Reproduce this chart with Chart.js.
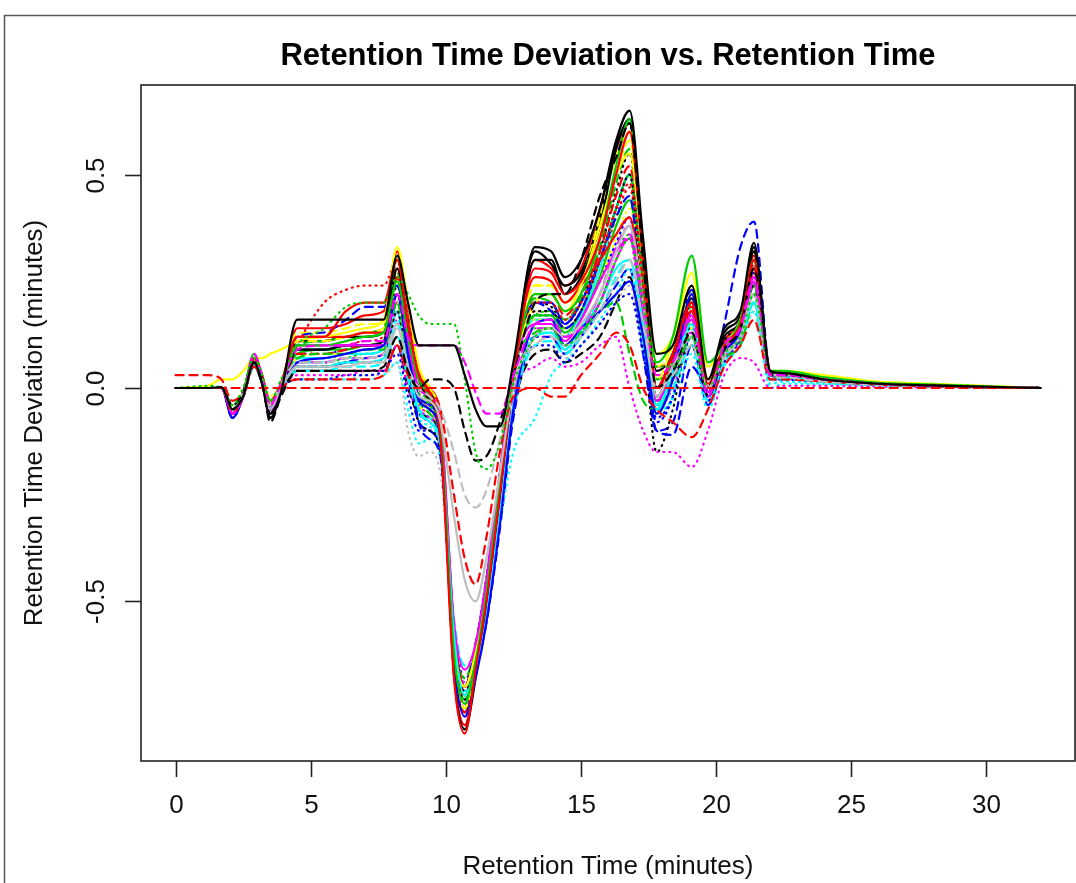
<!DOCTYPE html>
<html>
<head>
<meta charset="utf-8">
<title>Retention Time Deviation vs. Retention Time</title>
<script src="https://cdn.jsdelivr.net/npm/chart.js@4.4.1/dist/chart.umd.min.js"></script>
<style>
  html, body { margin: 0; padding: 0; background: #fff; }
  #rtChart { display: block; }
</style>
</head>
<body>
<canvas id="rtChart" width="1076" height="883"></canvas>
<script>
// retention time grid (minutes) shared by every sample curve
var retentionTime = [
  0, 1.2, 1.7, 2.1, 2.5, 2.9, 3.2, 3.5, 3.9,
  4.5, 5.5, 6.3, 7.0, 7.7, 8.2, 8.6, 9.0, 9.4, 9.8,
  10.3, 10.7, 11.1, 11.5, 12.0, 12.5,
  13.3, 13.9, 14.4, 15.0, 15.7, 16.3, 16.8, 17.3, 17.8,
  18.4, 19.1, 19.7, 20.3, 20.9, 21.4, 22.0, 22.5, 24, 26, 28, 30, 32
];

// deviation (minutes) per sample, one value per retentionTime entry
var s01 = [0, 0, 0.002, -0.05, -0.02, 0.06, 0.01, -0.07, -0.01,
  0.16, 0.16, 0.16, 0.16, 0.16, 0.31, 0.2, 0.1, 0.1, 0.1,
  0.1, 0.03, -0.05, -0.09, -0.09, 0.06,
  0.33, 0.32, 0.26, 0.3, 0.42, 0.58, 0.65, 0.35, 0.08,
  0.1, 0.24, 0.02, 0.14, 0.18, 0.34, 0.04, 0.035, 0.02, 0.01, 0.006, 0.003, 0];
var s02 = [0, 0, 0, 0, 0, 0, 0, 0, 0,
  0, 0, 0, 0, 0, 0, 0, 0, 0, 0,
  0, 0, 0, 0, 0, 0,
  0, 0, 0, 0, 0, 0, 0, 0, 0,
  0, 0, 0, 0, 0, 0, 0, 0, 0, 0, 0, 0, 0];
var s03 = [0, 0.005, 0, -0.04, 0, 0.07, 0.03, -0.03, 0.02,
  0.1, 0.14, 0.19, 0.2, 0.2, 0.26, 0.22, 0.17, 0.15, 0.15,
  0.15, 0.02, -0.15, -0.19, -0.13, 0.01,
  0.12, 0.14, 0.1, 0.13, 0.2, 0.3, 0.35, 0.2, 0.05,
  0.05, 0.12, 0, 0.08, 0.12, 0.22, 0.04, 0.035, 0.025, 0.012, 0.008, 0.004, 0];
var s04 = [0, 0, 0, -0.06, -0.02, 0.08, 0.03, -0.04, 0.01,
  0.09, 0.1, 0.1, 0.11, 0.11, 0.22, 0.12, 0.1, 0.1, 0.1,
  0.1, 0.06, -0.01, -0.06, -0.06, 0.03,
  0.15, 0.16, 0.12, 0.14, 0.2, 0.3, 0.36, 0.2, 0.03,
  0.06, 0.16, -0.02, 0.1, 0.14, 0.26, 0.03, 0.03, 0.02, 0.01, 0.005, 0.003, 0];
var s05 = [0, 0, 0, -0.04, -0.01, 0.06, 0.02, -0.08, -0.02,
  0.04, 0.04, 0.04, 0.04, 0.05, 0.12, 0.04, 0, 0.02, 0.02,
  0, -0.1, -0.17, -0.16, -0.08, 0.03,
  0.2, 0.22, 0.22, 0.3, 0.45, 0.54, 0.62, 0.3, 0,
  0.04, 0.13, -0.02, 0.09, 0.14, 0.28, 0.03, 0.03, 0.02, 0.01, 0.005, 0.002, 0];
var s06 = [0, 0, 0, -0.05, -0.01, 0.06, 0.02, -0.04, 0.01,
  0.06, 0.06, 0.07, 0.07, 0.08, 0.15, 0.05, 0, -0.02, -0.05,
  -0.15, -0.25, -0.28, -0.24, -0.12, 0.02,
  0.1, 0.12, 0.1, 0.12, 0.18, 0.25, 0.3, 0.15, 0,
  0.03, 0.1, 0, 0.07, 0.12, 0.22, 0.03, 0.025, 0.015, 0.008, 0.004, 0.002, 0];
var s07 = [0.03, 0.03, 0.02, -0.03, -0.01, 0.05, 0.02, -0.03, 0,
  0.02, 0.02, 0.02, 0.02, 0.03, 0.1, 0.03, 0, -0.01, -0.05,
  -0.25, -0.4, -0.46, -0.35, -0.15, -0.02,
  0, -0.02, -0.02, 0.03, 0.08, 0.13, 0.1, 0, -0.05,
  -0.08, -0.115, -0.05, 0.05, 0.1, 0.16, 0.02, 0.02, 0.015, 0.008, 0.004, 0.002, 0];
var s08 = [0, 0, 0, -0.05, -0.02, 0.06, 0.02, -0.05, 0,
  0.05, 0.05, 0.05, 0.06, 0.06, 0.14, 0.05, -0.02, -0.03, -0.08,
  -0.3, -0.45, -0.5, -0.4, -0.2, 0,
  0.12, 0.14, 0.12, 0.15, 0.22, 0.32, 0.38, 0.2, -0.02,
  0.05, 0.12, 0, 0.08, 0.12, 0.22, 0.03, 0.03, 0.02, 0.01, 0.005, 0.002, 0];
var s09 = [0, 0, 0, -0.06, -0.02, 0.07, 0.03, -0.04, 0.01,
  0.12, 0.12, 0.18, 0.2, 0.2, 0.3, 0.15, 0.03, -0.01, -0.12,
  -0.68, -0.81, -0.66, -0.5, -0.25, 0.02,
  0.28, 0.27, 0.22, 0.25, 0.35, 0.5, 0.6, 0.3, 0,
  0.08, 0.2, 0, 0.1, 0.15, 0.3, 0.04, 0.035, 0.02, 0.01, 0.006, 0.003, 0];
var s10 = [0, 0, 0, -0.05, -0.01, 0.08, 0.03, -0.03, 0.01,
  0.1, 0.1, 0.11, 0.12, 0.13, 0.25, 0.12, 0.02, -0.02, -0.1,
  -0.62, -0.74, -0.64, -0.48, -0.23, 0.03,
  0.22, 0.22, 0.18, 0.22, 0.35, 0.52, 0.63, 0.3, 0.06,
  0.12, 0.31, 0.06, 0.1, 0.16, 0.3, 0.04, 0.04, 0.025, 0.012, 0.008, 0.004, 0];
var s11 = [0, 0, 0, -0.07, -0.02, 0.06, 0.02, -0.05, 0,
  0.06, 0.07, 0.08, 0.09, 0.1, 0.22, 0.08, -0.03, -0.05, -0.12,
  -0.64, -0.77, -0.68, -0.55, -0.32, -0.05,
  0.15, 0.16, 0.1, 0.14, 0.18, 0.22, 0.25, 0.12, -0.06,
  0.02, 0.22, -0.02, 0.08, 0.14, 0.3, 0.03, 0.03, 0.02, 0.01, 0.005, 0.002, 0];
var s12 = [0, 0, 0, -0.05, -0.01, 0.06, 0.02, -0.04, 0,
  0.05, 0.05, 0.06, 0.06, 0.07, 0.15, 0.05, -0.05, -0.08, -0.13,
  -0.58, -0.72, -0.66, -0.54, -0.3, -0.04,
  0.12, 0.13, 0.09, 0.14, 0.2, 0.28, 0.3, 0.15, -0.05,
  0.04, 0.15, 0, 0.08, 0.12, 0.2, 0.02, 0.025, 0.015, 0.008, 0.004, 0.002, 0];
var s13 = [0, 0, 0, -0.06, -0.01, 0.07, 0.02, -0.05, 0,
  0.1, 0.1, 0.1, 0.1, 0.1, 0.22, 0.1, 0, -0.02, -0.08,
  -0.55, -0.66, -0.6, -0.45, -0.2, 0.04,
  0.15, 0.15, 0.11, 0.16, 0.25, 0.32, 0.35, 0.18, -0.03,
  0.05, 0.17, -0.01, 0.09, 0.13, 0.25, 0.03, 0.03, 0.02, 0.01, 0.005, 0.002, 0];
var s14 = [0, 0.005, 0.02, 0.02, 0.04, 0.07, 0.07, 0.08, 0.09,
  0.11, 0.12, 0.13, 0.14, 0.16, 0.33, 0.2, 0.05, 0, -0.08,
  -0.6, -0.7, -0.62, -0.46, -0.22, 0.03,
  0.2, 0.22, 0.18, 0.24, 0.38, 0.5, 0.55, 0.3, 0.08,
  0.12, 0.27, 0.05, 0.1, 0.16, 0.3, 0.04, 0.04, 0.03, 0.015, 0.01, 0.005, 0];
var s15 = [0, 0, 0, -0.05, -0.02, 0.06, 0.02, -0.06, -0.01,
  0.09, 0.09, 0.1, 0.1, 0.11, 0.28, 0.15, 0.02, -0.03, -0.1,
  -0.67, -0.8, -0.68, -0.5, -0.25, 0.02,
  0.3, 0.3, 0.22, 0.26, 0.38, 0.56, 0.63, 0.32, 0,
  0.08, 0.2, 0, 0.13, 0.17, 0.33, 0.04, 0.035, 0.02, 0.01, 0.006, 0.003, 0];
var s16 = [0, 0, 0, -0.05, -0.01, 0.07, 0.02, -0.04, 0.01,
  0.12, 0.12, 0.12, 0.13, 0.13, 0.28, 0.14, 0.03, 0, -0.07,
  -0.56, -0.7, -0.62, -0.46, -0.22, 0.04,
  0.26, 0.25, 0.2, 0.24, 0.3, 0.36, 0.4, 0.2, 0,
  0.08, 0.18, 0.01, 0.1, 0.14, 0.28, 0.03, 0.03, 0.02, 0.01, 0.005, 0.002, 0];
var s17 = [0, 0, 0, -0.05, -0.01, 0.06, 0.02, -0.04, 0.01,
  0.1, 0.2, 0.23, 0.24, 0.24, 0.3, 0.18, 0.04, -0.02, -0.1,
  -0.62, -0.72, -0.64, -0.47, -0.23, 0.03,
  0.2, 0.2, 0.16, 0.2, 0.3, 0.42, 0.48, 0.24, -0.02,
  0.07, 0.18, 0, 0.1, 0.14, 0.27, 0.04, 0.035, 0.025, 0.012, 0.006, 0.003, 0];
var s18 = [0, 0, 0, -0.06, -0.02, 0.07, 0.02, -0.04, 0.01,
  0.12, 0.13, 0.16, 0.19, 0.19, 0.24, 0.08, -0.08, -0.12, -0.16,
  -0.62, -0.7, -0.6, -0.45, -0.2, 0.04,
  0.2, 0.18, 0.14, 0.18, 0.3, 0.4, 0.45, 0.15, -0.1,
  -0.11, 0.05, 0, 0.15, 0.33, 0.39, 0.04, 0.03, 0.02, 0.01, 0.005, 0.002, 0];
var s19 = [0, 0, 0, -0.05, -0.01, 0.07, 0.03, -0.03, 0.01,
  0.07, 0.08, 0.08, 0.09, 0.09, 0.2, 0.06, -0.03, -0.06, -0.12,
  -0.58, -0.68, -0.6, -0.45, -0.2, 0.04,
  0.13, 0.14, 0.1, 0.13, 0.18, 0.2, 0.08, -0.03, -0.05,
  0.02, 0.12, 0, 0.07, 0.1, 0.2, 0.03, 0.025, 0.015, 0.008, 0.004, 0.002, 0];
var s20 = [0, 0, 0, -0.04, -0.01, 0.05, 0.02, -0.03, 0,
  0.04, 0.04, 0.05, 0.05, 0.06, 0.12, 0.02, -0.06, -0.08, -0.14,
  -0.54, -0.65, -0.62, -0.52, -0.3, -0.05,
  0.1, 0.11, 0.08, 0.12, 0.18, 0.26, 0.3, 0.12, -0.05,
  0, 0.1, -0.03, 0.06, 0.1, 0.2, 0.02, 0.02, 0.015, 0.008, 0.004, 0.002, 0];
var s21 = [0, 0, 0, -0.05, -0.01, 0.06, 0.02, -0.04, 0,
  0.03, 0.03, 0.03, 0.04, 0.04, 0.1, 0, -0.05, -0.07, -0.12,
  -0.6, -0.7, -0.6, -0.44, -0.2, 0,
  0.05, 0.07, 0.05, 0.06, 0.1, 0.12, 0, -0.1, -0.15,
  -0.15, -0.185, -0.1, 0.03, 0.07, 0.06, 0, 0.005, 0.005, 0.003, 0.002, 0.001, 0];
var s22 = [0, 0, 0, -0.05, -0.01, 0.07, 0.03, -0.03, 0.01,
  0.11, 0.11, 0.12, 0.13, 0.14, 0.3, 0.16, 0.04, 0, -0.09,
  -0.64, -0.75, -0.65, -0.48, -0.23, 0.03,
  0.24, 0.24, 0.2, 0.24, 0.36, 0.5, 0.58, 0.3, 0.02,
  0.1, 0.22, 0.02, 0.1, 0.16, 0.3, 0.04, 0.035, 0.025, 0.012, 0.008, 0.004, 0];
var s23 = [0, 0, 0, -0.05, -0.02, 0.06, 0.02, -0.06, -0.01,
  0.05, 0.05, 0.06, 0.06, 0.07, 0.18, 0.04, -0.08, -0.1, -0.15,
  -0.62, -0.73, -0.64, -0.48, -0.24, 0.02,
  0.18, 0.18, 0.14, 0.18, 0.3, 0.42, 0.5, 0.15, -0.15,
  -0.05, 0.15, -0.02, 0.1, 0.15, 0.3, 0.03, 0.03, 0.02, 0.01, 0.005, 0.002, 0];
var s24 = [0, 0, 0, -0.05, -0.01, 0.07, 0.03, -0.04, 0.01,
  0.09, 0.09, 0.1, 0.1, 0.11, 0.22, 0.1, -0.01, -0.04, -0.11,
  -0.6, -0.72, -0.63, -0.46, -0.22, 0.03,
  0.17, 0.18, 0.14, 0.18, 0.3, 0.42, 0.5, 0.25, -0.02,
  0.06, 0.15, 0, 0.09, 0.14, 0.24, 0.03, 0.03, 0.02, 0.01, 0.005, 0.002, 0];
var s25 = [0, 0, 0, -0.07, -0.02, 0.06, 0.02, -0.04, 0,
  0.02, 0.02, 0.03, 0.03, 0.04, 0.08, -0.02, -0.1, -0.1, -0.15,
  -0.56, -0.68, -0.64, -0.53, -0.31, -0.06,
  0.1, 0.1, 0.06, 0.1, 0.15, 0.2, 0.22, 0.08, -0.07,
  -0.02, 0.12, -0.03, 0.06, 0.12, 0.25, 0.02, 0.02, 0.015, 0.008, 0.004, 0.002, 0];
var s26 = [0, 0, 0, -0.05, -0.01, 0.05, 0.02, -0.03, 0,
  0.02, 0.02, 0.02, 0.02, 0.03, 0.06, -0.05, -0.13, -0.12, -0.17,
  -0.58, -0.7, -0.65, -0.52, -0.32, -0.15,
  -0.07, 0.03, 0.06, 0.1, 0.16, 0.22, 0.28, 0.1, -0.05,
  -0.03, 0.08, -0.05, 0.05, 0.1, 0.18, 0, 0.01, 0.008, 0.005, 0.003, 0.001, 0];
var s27 = [0, 0, 0, -0.05, -0.01, 0.05, 0.02, -0.04, 0,
  0.02, 0.02, 0.02, 0.03, 0.03, 0.06, -0.1, -0.16, -0.15, -0.2,
  -0.58, -0.68, -0.63, -0.52, -0.3, -0.04,
  0.1, 0.1, 0.07, 0.1, 0.15, 0.2, 0.24, 0.1, -0.03,
  0, 0.1, -0.02, 0.06, 0.1, 0.18, 0.02, 0.02, 0.015, 0.008, 0.004, 0.002, 0];
var s28 = [0, 0, 0, -0.05, -0.02, 0.05, 0.01, -0.07, -0.01,
  0.04, 0.04, 0.04, 0.04, 0.04, 0.1, 0, -0.06, -0.07, -0.13,
  -0.6, -0.71, -0.65, -0.53, -0.3, -0.05,
  0.08, 0.09, 0.06, 0.08, 0.12, 0.2, 0.26, 0.1, -0.03,
  0.02, 0.1, 0, 0.1, 0.15, 0.24, 0.03, 0.03, 0.02, 0.01, 0.005, 0.002, 0];
var s29 = [0, 0, 0, -0.06, -0.02, 0.07, 0.02, -0.05, 0,
  0.08, 0.08, 0.09, 0.1, 0.1, 0.26, 0.12, 0, -0.02, -0.1,
  -0.64, -0.76, -0.66, -0.5, -0.25, 0.02,
  0.22, 0.22, 0.17, 0.22, 0.32, 0.45, 0.52, 0.25, 0,
  0.08, 0.19, 0, 0.1, 0.15, 0.28, 0.035, 0.03, 0.02, 0.01, 0.006, 0.003, 0];
var s30 = [0, 0, 0, -0.04, 0, 0.06, 0.03, -0.02, 0.01,
  0.07, 0.08, 0.08, 0.09, 0.1, 0.2, 0.05, -0.04, -0.06, -0.12,
  -0.58, -0.7, -0.62, -0.46, -0.2, 0.04,
  0.16, 0.16, 0.12, 0.16, 0.25, 0.35, 0.42, 0.22, -0.03,
  0.06, 0.14, 0, 0.08, 0.13, 0.24, 0.03, 0.035, 0.025, 0.012, 0.008, 0.004, 0];
var s31 = [0, 0, 0, -0.06, -0.02, 0.07, 0.03, -0.04, 0,
  0.06, 0.06, 0.07, 0.07, 0.08, 0.2, 0.06, -0.04, -0.06, -0.12,
  -0.58, -0.7, -0.65, -0.53, -0.29, -0.03,
  0.14, 0.14, 0.1, 0.14, 0.22, 0.33, 0.38, 0.2, 0,
  0.04, 0.13, -0.02, 0.08, 0.12, 0.22, 0.03, 0.025, 0.015, 0.008, 0.004, 0.002, 0];
var s32 = [0, 0, 0, -0.05, -0.02, 0.06, 0.02, -0.04, 0,
  0.07, 0.07, 0.08, 0.08, 0.09, 0.18, 0.04, -0.05, -0.07, -0.13,
  -0.62, -0.72, -0.62, -0.45, -0.21, 0.03,
  0.16, 0.16, 0.12, 0.17, 0.28, 0.42, 0.5, 0.2, -0.04,
  0.05, 0.14, 0, 0.08, 0.12, 0.2, 0.03, 0.025, 0.015, 0.008, 0.004, 0.002, 0];
var s33 = [0, 0, 0, -0.06, -0.02, 0.06, 0.02, -0.05, 0,
  0.09, 0.09, 0.1, 0.1, 0.1, 0.22, 0.08, -0.02, -0.04, -0.1,
  -0.6, -0.72, -0.63, -0.47, -0.22, 0.03,
  0.2, 0.2, 0.15, 0.2, 0.3, 0.42, 0.5, 0.22, -0.02,
  0.06, 0.23, -0.01, 0.1, 0.15, 0.28, 0.03, 0.03, 0.02, 0.01, 0.005, 0.002, 0];
var s34 = [0, 0, 0, -0.05, -0.01, 0.07, 0.02, -0.04, 0.01,
  0.08, 0.09, 0.09, 0.1, 0.11, 0.2, 0.06, -0.03, -0.05, -0.11,
  -0.6, -0.7, -0.62, -0.46, -0.22, 0.03,
  0.17, 0.17, 0.13, 0.17, 0.26, 0.38, 0.44, 0.2, -0.04,
  0.05, 0.16, 0, 0.09, 0.13, 0.24, 0.03, 0.03, 0.02, 0.01, 0.005, 0.002, 0];
var s35 = [0, 0, 0, -0.05, -0.01, 0.06, 0.02, -0.05, 0,
  0.07, 0.07, 0.08, 0.09, 0.1, 0.24, 0.1, -0.02, -0.04, -0.1,
  -0.62, -0.74, -0.64, -0.48, -0.24, 0.02,
  0.2, 0.19, 0.15, 0.2, 0.32, 0.46, 0.55, 0.22, -0.04,
  0.04, 0.2, -0.01, 0.11, 0.16, 0.32, 0.035, 0.03, 0.02, 0.01, 0.005, 0.002, 0];
var s36 = [0, 0, 0, -0.06, -0.02, 0.07, 0.02, -0.04, 0,
  0.08, 0.09, 0.1, 0.11, 0.12, 0.26, 0.1, -0.02, -0.05, -0.12,
  -0.63, -0.75, -0.65, -0.49, -0.25, 0.02,
  0.18, 0.18, 0.14, 0.18, 0.28, 0.4, 0.47, 0.2, -0.03,
  0.05, 0.17, -0.02, 0.1, 0.15, 0.29, 0.035, 0.03, 0.02, 0.01, 0.005, 0.002, 0];
var s37 = [0, 0, 0, -0.05, -0.01, 0.07, 0.03, -0.04, 0,
  0.1, 0.11, 0.12, 0.13, 0.14, 0.27, 0.12, 0, -0.03, -0.1,
  -0.61, -0.73, -0.63, -0.47, -0.23, 0.03,
  0.21, 0.2, 0.16, 0.21, 0.33, 0.48, 0.56, 0.25, 0.02,
  0.06, 0.19, 0, 0.1, 0.15, 0.29, 0.035, 0.03, 0.02, 0.01, 0.005, 0.002, 0];
var s38 = [0, 0, 0, -0.07, -0.02, 0.06, 0.02, -0.05, 0,
  0.05, 0.05, 0.06, 0.07, 0.08, 0.18, 0.03, -0.08, -0.1, -0.15,
  -0.57, -0.7, -0.66, -0.55, -0.33, -0.07,
  0.12, 0.12, 0.08, 0.12, 0.18, 0.24, 0.28, 0.08, -0.1,
  -0.08, 0.1, -0.04, 0.06, 0.12, 0.24, 0.02, 0.02, 0.015, 0.008, 0.004, 0.002, 0];
var s39 = [0, 0, 0, -0.05, -0.01, 0.06, 0.02, -0.04, 0,
  0.06, 0.06, 0.07, 0.07, 0.08, 0.16, 0.03, -0.07, -0.09, -0.14,
  -0.58, -0.71, -0.66, -0.54, -0.32, -0.06,
  0.13, 0.13, 0.09, 0.13, 0.22, 0.32, 0.38, 0.12, -0.06,
  -0.02, 0.12, -0.03, 0.07, 0.12, 0.22, 0.01, 0.015, 0.01, 0.006, 0.003, 0.001, 0];
var s40 = [0, 0, 0, -0.06, -0.02, 0.07, 0.02, -0.04, 0,
  0.05, 0.05, 0.06, 0.06, 0.07, 0.16, 0.02, -0.06, -0.08, -0.13,
  -0.57, -0.69, -0.64, -0.53, -0.31, -0.05,
  0.12, 0.12, 0.08, 0.12, 0.2, 0.3, 0.35, 0.12, -0.05,
  0, 0.12, -0.03, 0.07, 0.11, 0.22, 0.02, 0.02, 0.015, 0.008, 0.004, 0.002, 0];
var s41 = [0, 0, 0, -0.05, -0.01, 0.07, 0.03, -0.03, 0.01,
  0.13, 0.13, 0.14, 0.15, 0.15, 0.31, 0.16, 0.03, 0, -0.08,
  -0.6, -0.72, -0.63, -0.47, -0.22, 0.03,
  0.24, 0.24, 0.2, 0.25, 0.4, 0.54, 0.6, 0.3, 0.05,
  0.1, 0.24, 0.02, 0.1, 0.16, 0.3, 0.04, 0.035, 0.025, 0.012, 0.008, 0.004, 0];
var s42 = [0, 0, 0, -0.05, -0.01, 0.06, 0.02, -0.04, 0,
  0.07, 0.07, 0.08, 0.08, 0.09, 0.2, 0.06, -0.03, -0.05, -0.11,
  -0.6, -0.7, -0.62, -0.46, -0.22, 0.03,
  0.16, 0.16, 0.12, 0.16, 0.26, 0.38, 0.44, 0.18, -0.02,
  0.03, 0.14, -0.01, 0.08, 0.12, 0.24, 0.03, 0.025, 0.015, 0.008, 0.004, 0.002, 0];
var s43 = [0, 0, 0, -0.05, -0.02, 0.06, 0.01, -0.06, -0.01,
  0.11, 0.11, 0.12, 0.12, 0.13, 0.3, 0.16, 0.03, -0.01, -0.09,
  -0.64, -0.76, -0.66, -0.5, -0.25, 0.03,
  0.32, 0.29, 0.24, 0.27, 0.4, 0.57, 0.62, 0.3, 0.04,
  0.08, 0.21, 0, 0.12, 0.16, 0.32, 0.04, 0.035, 0.02, 0.01, 0.006, 0.003, 0];
var s44 = [0, 0, 0, -0.06, -0.02, 0.06, 0.02, -0.05, 0,
  0.08, 0.08, 0.09, 0.1, 0.1, 0.2, 0.05, -0.05, -0.07, -0.13,
  -0.6, -0.71, -0.62, -0.46, -0.22, 0.03,
  0.17, 0.17, 0.12, 0.17, 0.25, 0.34, 0.4, 0.12, -0.08,
  -0.02, 0.18, -0.03, 0.08, 0.13, 0.27, 0.02, 0.02, 0.015, 0.008, 0.004, 0.002, 0];
var s45 = [0, 0, 0, -0.05, -0.02, 0.07, 0.02, -0.05, 0,
  0.14, 0.14, 0.15, 0.17, 0.18, 0.32, 0.18, 0.04, 0, -0.08,
  -0.66, -0.79, -0.67, -0.5, -0.25, 0.02,
  0.3, 0.28, 0.24, 0.28, 0.42, 0.56, 0.62, 0.3, 0.05,
  0.07, 0.2, 0, 0.11, 0.16, 0.31, 0.04, 0.035, 0.02, 0.01, 0.006, 0.003, 0];
var s46 = [0, 0, 0, -0.05, -0.01, 0.07, 0.03, -0.04, 0.01,
  0.06, 0.06, 0.07, 0.08, 0.09, 0.2, 0.05, -0.05, -0.07, -0.12,
  -0.58, -0.7, -0.65, -0.54, -0.31, -0.04,
  0.14, 0.14, 0.1, 0.14, 0.22, 0.32, 0.36, 0.15, -0.02,
  0.02, 0.14, 0, 0.07, 0.11, 0.2, 0.02, 0.025, 0.015, 0.008, 0.004, 0.002, 0];

var seriesValues = [s01, s02, s03, s04, s05, s06, s07, s08, s09, s10, s11, s12,
  s13, s14, s15, s16, s17, s18, s19, s20, s21, s22, s23, s24, s25, s26, s27,
  s28, s29, s30, s31, s32, s33, s34, s35, s36, s37, s38, s39, s40, s41, s42,
  s43, s44, s45, s46];
var seriesColors = ['black', 'red', 'green', 'magenta', 'black', 'gray', 'red', 'gray',
  'red', 'green', 'blue', 'cyan', 'magenta', 'yellow', 'black', 'red', 'red', 'blue',
  'green', 'cyan', 'magenta', 'yellow', 'black', 'green', 'blue', 'cyan', 'gray',
  'black', 'red', 'yellow', 'magenta', 'cyan', 'blue', 'green',
  'black', 'red', 'green', 'blue', 'cyan', 'magenta', 'yellow', 'gray',
  'black', 'blue', 'red', 'green'];
var seriesLines = ['solid', 'dashed', 'dotted', 'dashed', 'dashed', 'dashed', 'dashed', 'solid',
  'solid', 'solid', 'solid', 'solid', 'solid', 'solid', 'solid', 'solid', 'dotted', 'dashed',
  'dashed', 'dashed', 'dotted', 'dashed', 'dotted', 'dotted', 'dotted', 'dotted', 'dotted',
  'dashed', 'dashed', 'dotted', 'dashed', 'solid', 'solid', 'solid',
  'dotted', 'dotted', 'dashed', 'dashed', 'dotted', 'dotted', 'dashed', 'dotted',
  'solid', 'dotted', 'solid', 'dotted'];

var xTicks = [0, 5, 10, 15, 20, 25, 30];
var yTicks = [-0.5, 0, 0.5];
var yTickLabels = ['-0.5', '0.0', '0.5'];

// base R palette
var palette = {
  black: '#000000', red: '#FF0000', green: '#00CD00', blue: '#0000FF',
  cyan: '#00FFFF', magenta: '#FF00FF', yellow: '#FFFF00', gray: '#BEBEBE'
};
var dashes = { solid: [], dashed: [8, 6], dotted: [1, 5] };

var datasets = [];
for (var i = 0; i < seriesValues.length; i++) {
  var pts = [];
  for (var j = 0; j < retentionTime.length; j++) {
    pts.push({ x: retentionTime[j], y: seriesValues[i][j] });
  }
  datasets.push({
    data: pts,
    borderColor: palette[seriesColors[i]],
    borderWidth: 2.2,
    borderDash: dashes[seriesLines[i]],
    borderCapStyle: 'round',
    borderJoinStyle: 'round',
    pointRadius: 0,
    fill: false,
    cubicInterpolationMode: 'monotone'
  });
}

var FONT = '"Liberation Sans", Arial, Helvetica, sans-serif';

// box, ticks and labels in the style of base graphics
var baseFrame = {
  id: 'baseFrame',
  afterDraw: function (chart) {
    var ctx = chart.ctx;
    var a = chart.chartArea;
    var xs = chart.scales.x, ys = chart.scales.y;
    ctx.save();

    // outer device frame
    ctx.strokeStyle = '#555';
    ctx.lineWidth = 1.5;
    ctx.beginPath();
    ctx.moveTo(4.5, 883);
    ctx.lineTo(4.5, 15.5);
    ctx.lineTo(1076, 15.5);
    ctx.stroke();

    // plot box
    ctx.strokeStyle = '#222';
    ctx.lineWidth = 1.6;
    ctx.strokeRect(a.left, a.top, a.right - a.left, a.bottom - a.top);

    ctx.fillStyle = '#111';
    ctx.font = '26px ' + FONT;

    // x axis
    ctx.textAlign = 'center';
    ctx.textBaseline = 'middle';
    for (var i = 0; i < xTicks.length; i++) {
      var px = Math.round(xs.getPixelForValue(xTicks[i])) + 0.5;
      ctx.beginPath();
      ctx.moveTo(px, a.bottom);
      ctx.lineTo(px, a.bottom + 16);
      ctx.stroke();
      ctx.fillText(String(xTicks[i]), px, a.bottom + 45);
    }

    // y axis, labels read upwards
    for (var k = 0; k < yTicks.length; k++) {
      var py = Math.round(ys.getPixelForValue(yTicks[k])) + 0.5;
      ctx.beginPath();
      ctx.moveTo(a.left, py);
      ctx.lineTo(a.left - 16, py);
      ctx.stroke();
      ctx.save();
      ctx.translate(a.left - 44, py);
      ctx.rotate(-Math.PI / 2);
      ctx.fillText(yTickLabels[k], 0, 0);
      ctx.restore();
    }

    var midX = (a.left + a.right) / 2;
    var midY = (a.top + a.bottom) / 2;
    ctx.fillText('Retention Time (minutes)', midX, 867);
    ctx.save();
    ctx.translate(35, midY);
    ctx.rotate(-Math.PI / 2);
    ctx.fillText('Retention Time Deviation (minutes)', 0, 0);
    ctx.restore();

    ctx.font = 'bold 31px ' + FONT;
    ctx.fillStyle = '#000';
    ctx.fillText('Retention Time Deviation vs. Retention Time', midX, 56);

    ctx.restore();
  }
};

new Chart(document.getElementById('rtChart'), {
  type: 'line',
  data: { datasets: datasets },
  options: {
    responsive: false,
    animation: false,
    layout: { padding: { left: 141, top: 85, right: 1, bottom: 122 } },
    scales: {
      x: { type: 'linear', min: -1.28, max: 33.28, display: false },
      y: { type: 'linear', min: -0.874, max: 0.71, display: false }
    },
    plugins: {
      legend: { display: false },
      tooltip: { enabled: false }
    }
  },
  plugins: [baseFrame]
});
</script>
</body>
</html>
